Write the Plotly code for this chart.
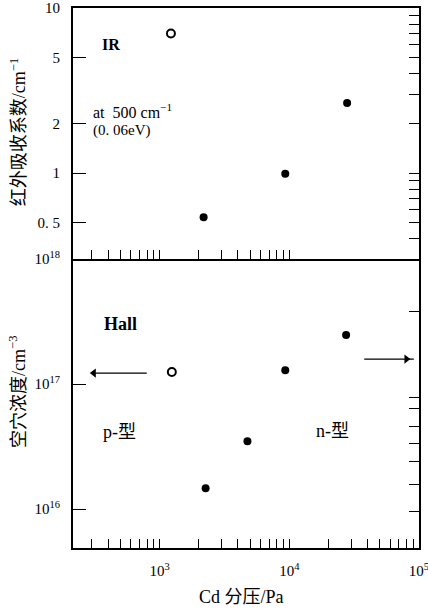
import plotly.graph_objects as go

# ---------------- data ----------------
ir_open_x = [1220]
ir_open_y = [7.0]
ir_filled_x = [2180, 9300, 27900]
ir_filled_y = [0.54, 0.99, 2.66]

hall_open_x = [1240]
hall_open_y = [1.25e17]
hall_filled_x = [2260, 4750, 9300, 27400]
hall_filled_y = [1.47e16, 3.5e16, 1.29e17, 2.47e17]

# tick values / labels
x_major_vals = [1000, 10000, 100000]
x_major_text = ["10<sup>3</sup>", "10<sup>4</sup>", "10<sup>5</sup>"]
x_minor_top = [300, 400, 500, 600, 700, 800, 900, 1000,
               2000, 3000, 4000, 5000, 6000, 7000, 8000, 9000, 10000]
x_minor_bot = x_minor_top + [20000, 30000, 40000, 50000, 60000, 70000, 80000, 90000]

ir_ticks = [0.5, 1, 2, 5, 10]
ir_ticktext = ["0. 5", "1", "2", "5", "10"]
ir_right_ticks = [0.4, 0.5, 0.6, 0.7, 0.8, 0.9, 1, 2, 3, 4, 5, 6, 7, 8, 9]

hall_ticks = [1e16, 1e17, 1e18]
hall_ticktext = ["10<sup>16</sup>", "10<sup>17</sup>", "10<sup>18</sup>"]
hall_right_ticks = [9.6e15, 1.58e16, 2.42e16, 3.37e16, 4.61e16, 6.43e16, 7.87e16, 3.84e17]

# arrows (Cd pressure, hole conc.): p-type arrow points left, n-type arrow points right
p_arrow_x = [794, 310]
p_arrow_y = [1.225e17, 1.225e17]
n_arrow_x = [37800, 91200]
n_arrow_head_x = [80000]
n_arrow_y = [1.585e17, 1.585e17]

FONT = "Liberation Serif, Noto Sans CJK SC, serif"

fig = go.Figure()

marker_filled = dict(symbol="circle", size=8, color="black")
marker_open = dict(symbol="circle-open", size=8, color="black", line=dict(width=2, color="black"))

fig.add_trace(go.Scatter(x=ir_open_x, y=ir_open_y, mode="markers", marker=marker_open,
                         xaxis="x", yaxis="y", showlegend=False))
fig.add_trace(go.Scatter(x=ir_filled_x, y=ir_filled_y, mode="markers", marker=marker_filled,
                         xaxis="x", yaxis="y", showlegend=False))
fig.add_trace(go.Scatter(x=hall_open_x, y=hall_open_y, mode="markers", marker=marker_open,
                         xaxis="x2", yaxis="y2", showlegend=False))
fig.add_trace(go.Scatter(x=hall_filled_x, y=hall_filled_y, mode="markers", marker=marker_filled,
                         xaxis="x2", yaxis="y2", showlegend=False))

# arrows
fig.add_trace(go.Scatter(x=p_arrow_x, y=p_arrow_y, mode="lines", line=dict(color="black", width=1.3),
                         xaxis="x2", yaxis="y2", showlegend=False, hoverinfo="skip"))
fig.add_trace(go.Scatter(x=p_arrow_x[1:], y=p_arrow_y[1:], mode="markers",
                         marker=dict(symbol="triangle-left", size=8, color="black"),
                         xaxis="x2", yaxis="y2", showlegend=False, hoverinfo="skip"))
fig.add_trace(go.Scatter(x=n_arrow_x, y=n_arrow_y, mode="lines", line=dict(color="black", width=1.3),
                         xaxis="x2", yaxis="y2", showlegend=False, hoverinfo="skip"))
fig.add_trace(go.Scatter(x=n_arrow_head_x, y=n_arrow_y[:1], mode="markers",
                         marker=dict(symbol="triangle-right", size=8, color="black"),
                         xaxis="x2", yaxis="y2", showlegend=False, hoverinfo="skip"))

# invisible traces to activate the right-hand overlay axes
fig.add_trace(go.Scatter(x=[1000], y=[1], mode="markers", marker=dict(opacity=0),
                         xaxis="x", yaxis="y3", showlegend=False, hoverinfo="skip"))
fig.add_trace(go.Scatter(x=[1000], y=[1e17], mode="markers", marker=dict(opacity=0),
                         xaxis="x2", yaxis="y4", showlegend=False, hoverinfo="skip"))

XR = [2.331, 5.0001]
split = 0.5352
common = dict(showgrid=False, zeroline=False, linecolor="black", linewidth=2,
              ticks="inside", tickcolor="black", tickwidth=1.3, automargin=False)

fig.update_layout(
    template="none",
    width=428, height=611,
    margin=dict(l=73, r=9, t=8, b=63),
    paper_bgcolor="white", plot_bgcolor="white",
    font=dict(family=FONT, size=15, color="black"),
    xaxis=dict(type="log", range=XR, domain=[0, 1], anchor="y", showline=True, mirror=True,
               tickvals=[1000, 10000], showticklabels=False, ticklen=9,
               minor=dict(tickvals=x_minor_top, ticks="inside", ticklen=9, tickwidth=1.3,
                          tickcolor="black", showgrid=False),
               **common),
    yaxis=dict(type="log", range=[-0.52, 1.0], domain=[split, 1], anchor="x",
               showline=True, mirror=True,
               tickvals=ir_ticks, ticktext=ir_ticktext, ticklen=13,
               ticklabelstandoff=8, ticklabeloverflow="allow", **common),
    yaxis3=dict(type="log", range=[-0.52, 1.0], overlaying="y", side="right", anchor="x",
                tickvals=ir_right_ticks, showticklabels=False, showline=False,
                ticklen=10, **common),
    xaxis2=dict(type="log", range=XR, domain=[0, 1], anchor="y2", showline=True, mirror=False,
                tickvals=x_major_vals, ticktext=x_major_text,
                ticklen=9, ticklabelstandoff=8, ticklabeloverflow="allow",
                minor=dict(tickvals=x_minor_bot, ticks="inside", ticklen=9, tickwidth=1.3,
                           tickcolor="black", showgrid=False),
                **common),
    yaxis2=dict(type="log", range=[15.69, 18.0], domain=[0, split], anchor="x2",
                showline=True, mirror=True,
                tickvals=hall_ticks, ticktext=hall_ticktext, ticklen=13,
                ticklabelstandoff=8, ticklabeloverflow="allow", **common),
    yaxis4=dict(type="log", range=[15.69, 18.0], overlaying="y2", side="right", anchor="x2",
                tickvals=hall_right_ticks, showticklabels=False, showline=False,
                ticklen=10, **common),
)

ann = []
ann.append(dict(text="红外吸收系数/cm<sup>−1</sup>", xref="paper", yref="paper",
                x=-0.159, y=0.770, xanchor="center", yanchor="middle",
                textangle=-90, showarrow=False, font=dict(size=18)))
ann.append(dict(text="空穴浓度/cm<sup>−3</sup>", xref="paper", yref="paper",
                x=-0.159, y=0.289, xanchor="center", yanchor="middle",
                textangle=-90, showarrow=False, font=dict(size=18)))
ann.append(dict(text="Cd 分压/Pa", xref="paper", yref="paper",
                x=0.486, y=-0.0907, xanchor="center", yanchor="middle",
                showarrow=False, font=dict(size=18)))

ann.append(dict(text="<b>IR</b>", xref="x", yref="y", x=2.538, y=0.776, xanchor="left",
                showarrow=False, font=dict(size=16)))
ann.append(dict(text="at  500 cm<sup>−1</sup>", xref="x", yref="y", x=2.469, y=0.376,
                xanchor="left", showarrow=False, font=dict(size=16)))
ann.append(dict(text="(0. 06eV)", xref="x", yref="y", x=2.469, y=0.261,
                xanchor="left", showarrow=False, font=dict(size=15)))
ann.append(dict(text="<b>Hall</b>", xref="x2", yref="y2", x=2.554, y=17.48, xanchor="left",
                showarrow=False, font=dict(size=18)))
ann.append(dict(text="p-型", xref="x2", yref="y2", x=2.546, y=16.616, xanchor="left",
                showarrow=False, font=dict(size=18)))
ann.append(dict(text="n-型", xref="x2", yref="y2", x=4.192, y=16.624, xanchor="left",
                showarrow=False, font=dict(size=18)))

fig.update_layout(annotations=ann)
fig.write_html("out.html", config={"displayModeBar": False},
               post_script="document.body.style.margin='0';document.body.style.padding='0';")
